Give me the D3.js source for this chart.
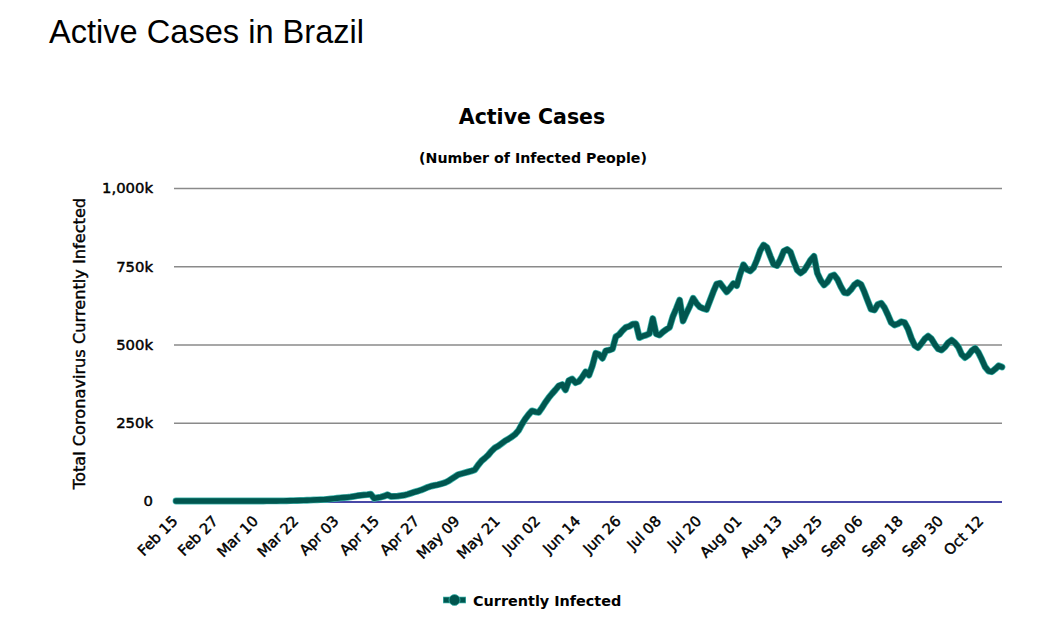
<!DOCTYPE html>
<html>
<head>
<meta charset="utf-8">
<script src="https://cdn.jsdelivr.net/npm/d3@7"></script>
<style>
  html, body { margin: 0; padding: 0; background: #fff; }
  svg { display: block; }
</style>
</head>
<body>
<svg id="chart" width="1037" height="627"></svg>
<script>
(function () {
  'use strict';

  // first day of the series, one value per day after it
  const START_DAY = '2020-02-15';

  // active cases, Feb 15 .. Oct 18 2020
  const activeCases = [
    0, 0, 0, 0, 0, 0, 0, 0, 0, 0, 0,
    1, 1, 1, 2, 2, 2, 2, 3, 8, 13, 19, 25, 25,
    30, 50, 76, 98, 120, 198, 232, 300, 420, 600, 900, 1100, 1500,
    1800, 2100, 2400, 2800, 3300, 3800, 4100, 4400, 5400, 6500, 7600, 8900,
    10200, 11000, 11800, 13200, 15000, 16800, 18300, 19300, 20500, 22000,
    8500, 10500, 12600, 15500, 20000, 14500, 15000, 15500, 17000, 18500, 21500, 25000, 28500, 31500,
    35000, 39500, 44000, 47500, 50000, 52000, 55000, 58000, 63000, 70000, 77000, 84000, 87000, 90000, 93000, 96000,
    100000, 115000, 128000, 137000, 147000, 160000, 170000, 176000, 184000, 192000,
    198000, 205000, 213000, 225000, 245000, 262000, 276000, 288000, 285000, 283000,
    298000, 315000, 330000, 343000, 355000, 368000, 372000, 355000, 385000, 390000,
    378000, 382000, 396000, 413000, 402000, 432000, 472000, 468000, 456000, 480000,
    482000, 486000, 525000, 532000, 545000, 555000, 558000, 565000, 566000,
    522000, 527000, 530000, 535000, 583000, 534000, 530000, 540000, 548000, 555000,
    590000, 615000, 642000, 575000, 600000, 622000, 648000, 632000, 620000, 615000,
    612000, 640000, 668000, 693000, 696000, 682000, 668000, 680000, 695000, 688000,
    725000, 755000, 740000, 735000, 745000, 770000, 800000, 818000, 810000, 782000,
    756000, 752000, 772000, 798000, 804000, 795000, 765000, 738000, 728000, 736000,
    752000, 770000, 782000, 728000, 705000, 690000, 700000, 718000, 722000, 708000,
    685000, 666000, 664000, 675000, 690000, 698000, 692000, 668000, 640000, 613000,
    610000, 628000, 632000, 618000, 595000, 570000, 562000, 566000, 573000, 570000,
    550000, 520000, 497000, 490000, 503000, 518000, 527000, 518000, 500000, 486000,
    482000, 492000, 506000, 514000, 505000, 492000, 468000, 458000, 466000, 480000,
    488000, 474000, 452000, 428000, 415000, 413000, 422000, 432000, 428000
  ];

  const xTickLabels = [
    'Feb 15', 'Feb 27', 'Mar 10', 'Mar 22', 'Apr 03', 'Apr 15', 'Apr 27',
    'May 09', 'May 21', 'Jun 02', 'Jun 14', 'Jun 26', 'Jul 08', 'Jul 20',
    'Aug 01', 'Aug 13', 'Aug 25', 'Sep 06', 'Sep 18', 'Sep 30', 'Oct 12'
  ];
  const yTickValues = [0, 250000, 500000, 750000, 1000000];

  const TEXT_FONT = '"DejaVu Sans", Verdana, sans-serif';
  const LINE_COLOR = '#01564f';
  const LINE_EDGE = '#3fb7ae';

  const start = d3.timeParse('%Y-%m-%d')(START_DAY);
  const data = activeCases.map((v, i) => ({ date: d3.timeDay.offset(start, i), value: v }));
  const parseTick = d3.timeParse('%b %d %Y');
  const tickDates = xTickLabels.map((s) => parseTick(s + ' 2020'));

  const svg = d3.select('#chart');
  const margin = { top: 188, right: 35, bottom: 126, left: 176 };
  const W = 1037, H = 627;
  const iw = W - margin.left - margin.right;
  const ih = H - margin.top - margin.bottom;

  const x = d3.scaleTime().domain(d3.extent(data, (d) => d.date)).range([0, iw]);
  const y = d3.scaleLinear().domain([0, 1000000]).range([ih, 0]);

  // thin outline to get the heavier look of the original text rendering
  const heavy = (sel, w) => sel.style('stroke', '#000').style('stroke-width', w)
    .style('paint-order', 'stroke').style('stroke-linejoin', 'round');

  // page heading
  svg.append('text')
    .attr('x', 49).attr('y', 43)
    .style('font-family', '"Liberation Sans", Arial, sans-serif')
    .style('font-size', '32.6px').style('fill', '#000')
    .text('Active Cases in Brazil');

  // chart title + subtitle
  svg.append('text')
    .attr('x', 532).attr('y', 124).attr('text-anchor', 'middle')
    .style('font-family', TEXT_FONT).style('font-size', '20.5px')
    .style('font-weight', 'bold').style('fill', '#000')
    .text('Active Cases');
  svg.append('text')
    .attr('x', 533).attr('y', 163).attr('text-anchor', 'middle')
    .style('font-family', TEXT_FONT).style('font-size', '14.2px')
    .style('font-weight', 'bold').style('fill', '#000')
    .text('(Number of Infected People)');

  const g = svg.append('g').attr('transform', `translate(${margin.left},${margin.top})`);

  // y grid + labels
  const yAxis = g.append('g')
    .call(d3.axisLeft(y).tickValues(yTickValues).tickSize(-iw).tickPadding(23)
      .tickFormat((d) => (d === 0 ? '0' : d3.format(',')(d / 1000) + 'k')));
  yAxis.select('.domain').remove();
  yAxis.selectAll('.tick line')
    .attr('stroke', '#8a8a8a').attr('stroke-width', 1.4)
    .attr('x1', -2);
  yAxis.selectAll('.tick').filter((d) => d === 0).select('line').remove();
  yAxis.selectAll('.tick text')
    .style('font-family', TEXT_FONT).style('font-size', '14.8px').style('fill', '#000')
    .call(heavy, 0.45);

  // x axis
  const xAxis = g.append('g').attr('transform', `translate(0,${ih})`)
    .call(d3.axisBottom(x).tickValues(tickDates).tickSize(0)
      .tickFormat((d, i) => xTickLabels[i]));
  xAxis.select('.domain')
    .attr('stroke', '#0b0b8a').attr('stroke-width', 1.6)
    .attr('d', `M-2,1H${iw}`);
  xAxis.selectAll('.tick text')
    .attr('text-anchor', 'end')
    .attr('dy', 0).attr('y', 0)
    .attr('transform', 'translate(2,21) rotate(-45)')
    .style('font-family', TEXT_FONT).style('font-size', '14.6px').style('fill', '#000')
    .call(heavy, 0.45);

  // y axis title
  svg.append('text')
    .attr('transform', `translate(85,${margin.top + ih / 2 - 1}) rotate(-90)`)
    .attr('text-anchor', 'middle')
    .style('font-family', TEXT_FONT).style('font-size', '16.2px').style('fill', '#000')
    .call(heavy, 0.4)
    .text('Total Coronavirus Currently Infected');

  // series
  const line = d3.line().x((d) => x(d.date)).y((d) => y(d.value));
  g.append('path').datum(data).attr('d', line)
    .attr('fill', 'none').attr('stroke', LINE_EDGE).attr('stroke-width', 6.8)
    .attr('stroke-linejoin', 'round').attr('stroke-linecap', 'round');
  g.append('path').datum(data).attr('d', line)
    .attr('fill', 'none').attr('stroke', LINE_COLOR).attr('stroke-width', 5.4)
    .attr('stroke-linejoin', 'round').attr('stroke-linecap', 'round');

  // legend
  const lg = svg.append('g').attr('transform', 'translate(443,600)');
  lg.append('line').attr('x1', 0).attr('x2', 23).attr('y1', 0).attr('y2', 0)
    .attr('stroke', LINE_EDGE).attr('stroke-width', 6.6);
  lg.append('line').attr('x1', 0.7).attr('x2', 22.3).attr('y1', 0).attr('y2', 0)
    .attr('stroke', LINE_COLOR).attr('stroke-width', 5.2);
  lg.append('circle').attr('cx', 11.5).attr('cy', 0).attr('r', 5.5)
    .attr('fill', LINE_COLOR).attr('stroke', LINE_EDGE).attr('stroke-width', 0.8);
  lg.append('text').attr('x', 30).attr('y', 5.5)
    .style('font-family', TEXT_FONT).style('font-size', '14.4px')
    .style('font-weight', 'bold').style('fill', '#000')
    .text('Currently Infected');
})();
</script>
</body>
</html>
